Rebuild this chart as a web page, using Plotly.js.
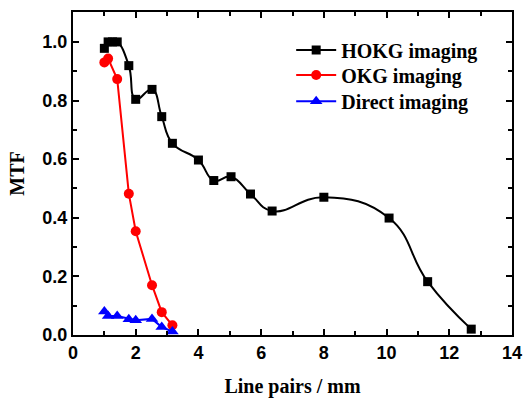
<!DOCTYPE html>
<html>
<head>
<meta charset="utf-8">
<script src="https://cdn.plot.ly/plotly-3.0.1.min.js"></script>
<style>html,body{margin:0;padding:0;background:#fff}#chart{width:527px;height:398px}</style>
</head>
<body>
<div id="chart"></div>
<script>
var hokgX = [1.0, 1.12, 1.26, 1.41, 1.78, 2.0, 2.52, 2.83, 3.17, 4.0, 4.49, 5.04, 5.66, 6.35, 8.0, 10.08, 11.31, 12.7];
var hokgY = [0.978, 1.0, 1.0, 1.0, 0.919, 0.804, 0.838, 0.745, 0.654, 0.597, 0.527, 0.54, 0.481, 0.423, 0.47, 0.399, 0.182, 0.02];
var okgX = [1.0, 1.12, 1.41, 1.78, 2.0, 2.52, 2.83, 3.17];
var okgY = [0.93, 0.943, 0.873, 0.482, 0.354, 0.17, 0.078, 0.033];
var dirX = [1.0, 1.12, 1.41, 1.78, 2.0, 2.52, 2.83, 3.17];
var dirY = [0.08, 0.065, 0.065, 0.054, 0.05, 0.055, 0.027, 0.012];
var seriesNames = ['HOKG imaging', 'OKG imaging', 'Direct imaging'];
var xTitle = 'Line pairs / mm';
var yTitle = 'MTF';

var traces = [
  {x: hokgX, y: hokgY, name: seriesNames[0], mode: 'lines+markers', legend: 'legend',
   line: {color: '#000000', width: 2, shape: 'spline', smoothing: 1.3},
   marker: {symbol: 'square', size: 9, color: '#000000'}},
  {x: okgX, y: okgY, name: seriesNames[1], mode: 'lines+markers', legend: 'legend2',
   line: {color: '#ff0000', width: 2},
   marker: {symbol: 'circle', size: 10, color: '#ff0000'}},
  {x: dirX, y: dirY, name: seriesNames[2], mode: 'lines+markers', legend: 'legend3',
   line: {color: '#0000ff', width: 2},
   marker: {symbol: 'triangle-up', size: 11, color: '#0000ff'}}
];

var tickFont = {family: 'Liberation Sans, Arial, sans-serif', size: 18, color: '#000', weight: 'bold'};
var titleFont = {family: 'Liberation Serif, Times New Roman, serif', size: 20, color: '#000', weight: 'bold'};
var legFont = {family: 'Liberation Serif, Times New Roman, serif', size: 20, color: '#000', weight: 'bold'};

function leg(y) {
  return {x: 0.497, y: y, xanchor: 'left', yanchor: 'middle', bgcolor: 'rgba(0,0,0,0)',
    font: legFont, itemwidth: 40};
}

var layout = {
  width: 527, height: 398,
  margin: {l: 73, r: 15, t: 12, b: 63},
  paper_bgcolor: '#fff', plot_bgcolor: '#fff',
  showlegend: true,
  legend: leg(0.882),
  legend2: leg(0.805),
  legend3: leg(0.724),
  xaxis: {range: [0, 14], dtick: 2, tick0: 0, ticks: 'inside', ticklen: 6, tickwidth: 2, tickcolor: '#000',
    showline: true, linewidth: 2, linecolor: '#000', mirror: 'ticks', showgrid: false, zeroline: false,
    tickfont: tickFont,
    minor: {dtick: 1, ticks: 'inside', ticklen: 4, tickwidth: 2, tickcolor: '#000', showgrid: false},
    title: {text: xTitle, font: titleFont, standoff: 19}},
  yaxis: {range: [0, 1.102], dtick: 0.2, tick0: 0, tickformat: '.1f', ticks: 'inside', ticklen: 6, tickwidth: 2, tickcolor: '#000',
    showline: true, linewidth: 2, linecolor: '#000', mirror: 'ticks', showgrid: false, zeroline: false,
    tickfont: tickFont,
    minor: {dtick: 0.1, ticks: 'inside', ticklen: 4, tickwidth: 2, tickcolor: '#000', showgrid: false},
    title: {text: yTitle, font: titleFont, standoff: 12}}
};

Plotly.newPlot('chart', traces, layout, {displayModeBar: false, staticPlot: true});
</script>
</body>
</html>
